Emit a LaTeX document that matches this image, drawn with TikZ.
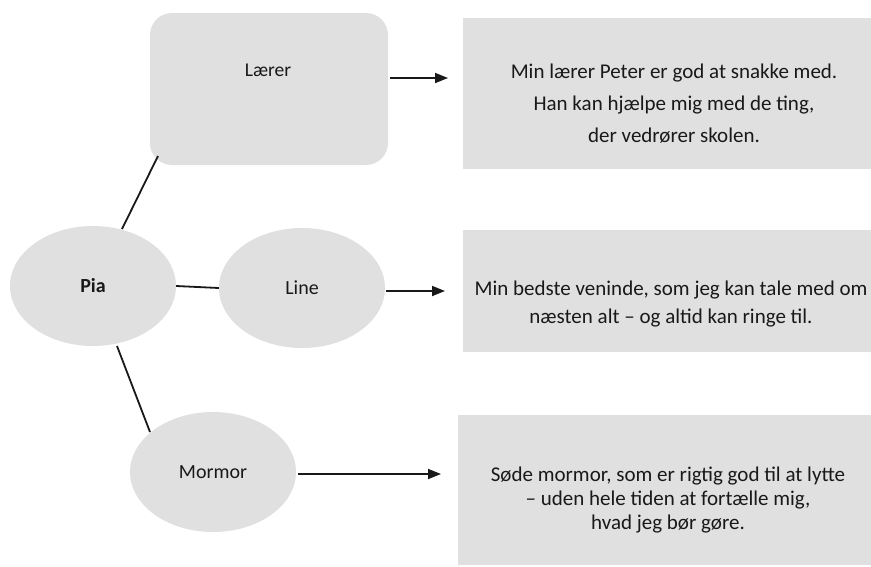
\documentclass[tikz,border=0pt]{standalone}
\usepackage{fontspec}
\setmainfont{Carlito}
\usetikzlibrary{arrows.meta,shapes.geometric}
\definecolor{boxgray}{RGB}{224,224,224}
\definecolor{inkc}{RGB}{25,25,25}
\begin{document}
\begin{tikzpicture}[x=1pt,y=-1pt,
  every node/.style={text=inkc},
  ellnode/.style={ellipse,fill=boxgray,minimum width=166pt,minimum height=120pt,inner sep=0pt,font=\fontsize{20}{22}\selectfont},
  infobox/.style={fill=boxgray,inner sep=0pt},
  infotext/.style={align=center,font=\fontsize{21}{32}\selectfont},
  conn/.style={line width=1.8pt,draw=inkc},
  arr/.style={line width=1.8pt,draw=inkc,-{Triangle[length=13pt,width=10pt]}}]
\useasboundingbox (0,0) rectangle (871,566);
% left nodes
\node[infobox,rounded corners=22pt,minimum width=238pt,minimum height=152pt] (laerer) at (269,89) {};
\node[font=\fontsize{19.5}{22}\selectfont] (laererT) at (268,70) {Lærer};
\node[ellnode,font=\fontsize{20}{22}\selectfont\bfseries] (pia) at (93,286) {Pia};
\node[ellnode] (line) at (302,288) {Line};
\node[ellnode] (mormor) at (213,472) {Mormor};
% right boxes
\node[infobox,minimum width=408pt,minimum height=151pt] (b1) at (667,93.5) {};
\node[infobox,minimum width=408pt,minimum height=122pt] (b2) at (667,291) {};
\node[infobox,minimum width=413pt,minimum height=150pt] (b3) at (664.5,490) {};
\node[infotext] (t1) at (674,104) {Min lærer Peter er god at snakke med.\\Han kan hjælpe mig med de ting,\\der vedrører skolen.};
\node[infotext,font=\fontsize{21}{28}\selectfont] (t2) at (671,304) {Min bedste veninde, som jeg kan tale med om\\næsten alt – og altid kan ringe til.};
\node[infotext,font=\fontsize{21}{24}\selectfont] (t3) at (668,500) {Søde mormor, som er rigtig god til at lytte\\– uden hele tiden at fortælle mig,\\hvad jeg bør gøre.};
% connectors
\coordinate (pTop) at (122,229);
\coordinate (lBot) at (158,156);
\coordinate (pBot) at (117,346);
\coordinate (mTop) at (150,432);
\draw[conn] (pTop) -- (lBot);
\draw[conn] (pia.east) -- (line.west);
\draw[conn] (pBot) -- (mTop);
\coordinate (a1s) at (390,78);  \coordinate (a1e) at (448,78);
\coordinate (a2s) at (386,291); \coordinate (a2e) at (445,291);
\coordinate (a3s) at (298,474); \coordinate (a3e) at (441,474);
\draw[arr] (a1s) -- (a1e);
\draw[arr] (a2s) -- (a2e);
\draw[arr] (a3s) -- (a3e);
\end{tikzpicture}
\end{document}
